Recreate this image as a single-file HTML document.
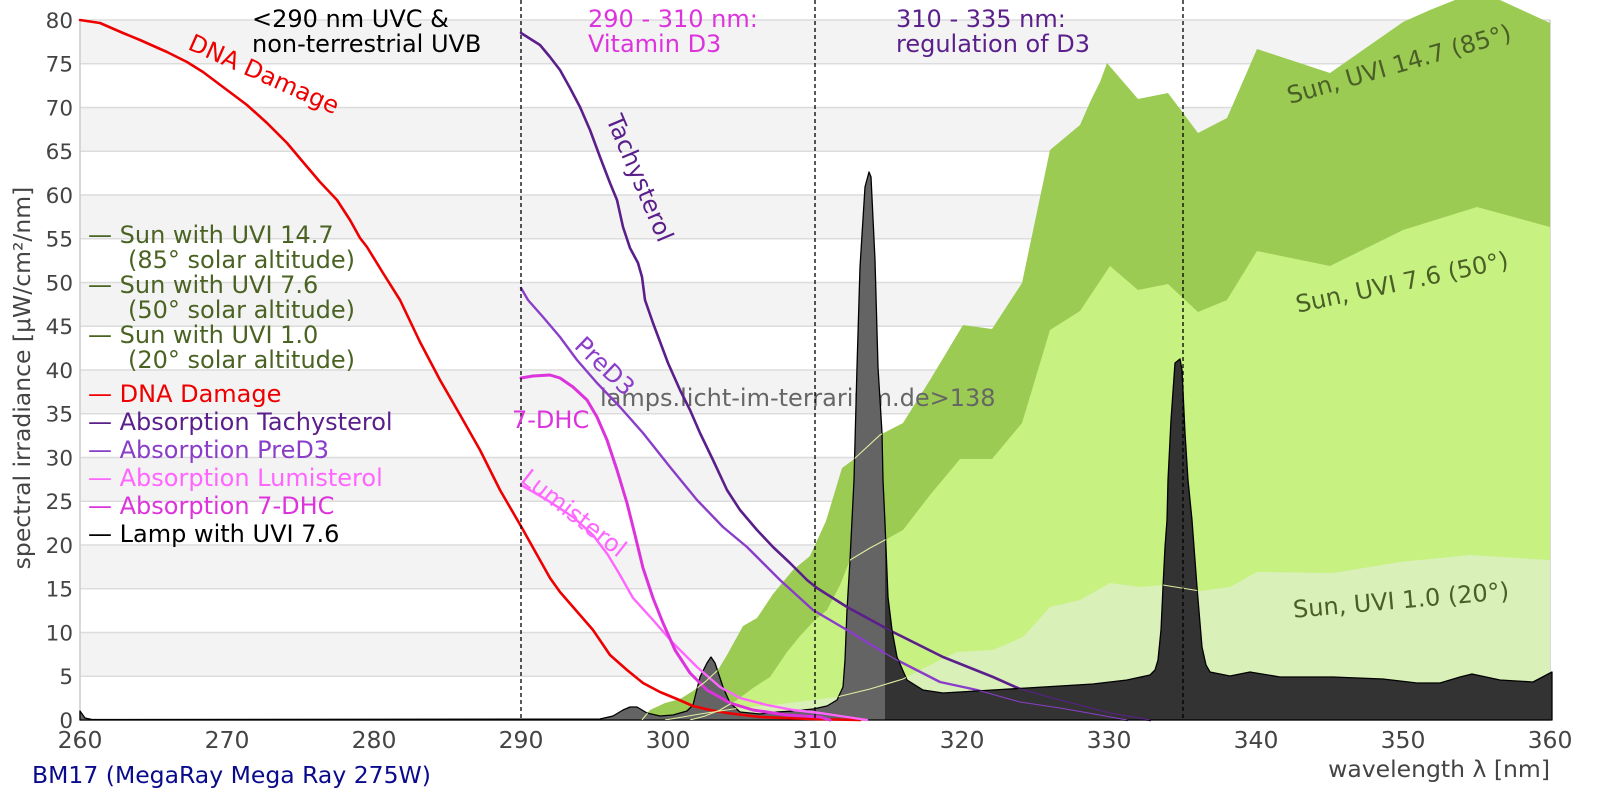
<!DOCTYPE html>
<html><head><meta charset="utf-8"><style>
html,body{margin:0;padding:0;background:#fff;}
svg{display:block;}
text{font-family:"DejaVu Sans","Liberation Sans",sans-serif;}
</style></head><body>
<svg width="1600" height="800" viewBox="0 0 1600 800" xmlns="http://www.w3.org/2000/svg">
<defs>
<clipPath id="leftclip"><rect x="0" y="0" width="885" height="800"/></clipPath>
<clipPath id="rightclip"><rect x="885" y="0" width="715" height="800"/></clipPath>
<clipPath id="lampclip"><polygon points="80,720 80,711 85,718 92,719.5 600,719 613,716 623,710 630,707 637,707 647,713 660,716 673,715 687,711 693,705 700,677 707,663 711,657 715,663 723,687 730,703 740,712 760,714 777,712 793,711 813,709 827,706 837,700 843,687 845,660 847,610 850,560 854,480 857,367 860,267 865,187 869,172 871,177 875,260 878,367 882,433 883,480 885,523 888,597 892,630 897,657 907,680 923,690 943,693 993,690 1027,688 1060,686 1093,684 1127,680 1150,675 1155,670 1158,660 1161,630 1163,587 1165,547 1167,520 1168,480 1171,420 1175,363 1180,359 1182,370 1185,433 1188,480 1192,520 1197,587 1202,647 1206,665 1210,672 1230,676 1250,672 1280,677 1333,677 1383,679 1417,683 1440,683 1460,677 1472,674 1500,680 1533,682 1552,672 1552,720"/></clipPath>
</defs>
<rect width="1600" height="800" fill="#fff"/>
<g fill="#f3f3f3">
<rect x="80" y="20" width="1470" height="43.75"/>
<rect x="80" y="107.5" width="1470" height="43.75"/>
<rect x="80" y="195" width="1470" height="43.75"/>
<rect x="80" y="282.5" width="1470" height="43.75"/>
<rect x="80" y="370" width="1470" height="43.75"/>
<rect x="80" y="457.5" width="1470" height="43.75"/>
<rect x="80" y="545" width="1470" height="43.75"/>
<rect x="80" y="632.5" width="1470" height="43.75"/>
</g>
<g stroke="#dcdcdc" stroke-width="1.5">
<line x1="80" x2="1550" y1="20" y2="20"/><line x1="80" x2="1550" y1="63.75" y2="63.75"/>
<line x1="80" x2="1550" y1="107.5" y2="107.5"/><line x1="80" x2="1550" y1="151.25" y2="151.25"/>
<line x1="80" x2="1550" y1="195" y2="195"/><line x1="80" x2="1550" y1="238.75" y2="238.75"/>
<line x1="80" x2="1550" y1="282.5" y2="282.5"/><line x1="80" x2="1550" y1="326.25" y2="326.25"/>
<line x1="80" x2="1550" y1="370" y2="370"/><line x1="80" x2="1550" y1="413.75" y2="413.75"/>
<line x1="80" x2="1550" y1="457.5" y2="457.5"/><line x1="80" x2="1550" y1="501.25" y2="501.25"/>
<line x1="80" x2="1550" y1="545" y2="545"/><line x1="80" x2="1550" y1="588.75" y2="588.75"/>
<line x1="80" x2="1550" y1="632.5" y2="632.5"/><line x1="80" x2="1550" y1="676.25" y2="676.25"/>
</g>
<g stroke="#cccccc" stroke-width="1.5">
<line x1="80" x2="80" y1="20" y2="720"/><line x1="1550" x2="1550" y1="20" y2="720"/>
<line x1="80" x2="1550" y1="720" y2="720"/>
</g>

<g font-size="21.5" fill="#444" text-anchor="end">
<text x="73" y="27.8">80</text><text x="73" y="71.5">75</text><text x="73" y="115.3">70</text><text x="73" y="159">65</text>
<text x="73" y="202.8">60</text><text x="73" y="246.5">55</text><text x="73" y="290.3">50</text><text x="73" y="334">45</text>
<text x="73" y="377.8">40</text><text x="73" y="421.5">35</text><text x="73" y="465.3">30</text><text x="73" y="509">25</text>
<text x="73" y="552.8">20</text><text x="73" y="596.5">15</text><text x="73" y="640.3">10</text><text x="73" y="684">5</text>
<text x="73" y="727.8">0</text>
</g>
<g font-size="23.5" fill="#444" text-anchor="middle">
<text x="80" y="748">260</text><text x="227" y="748">270</text><text x="374" y="748">280</text><text x="521" y="748">290</text>
<text x="668" y="748">300</text><text x="815" y="748">310</text><text x="962" y="748">320</text><text x="1109" y="748">330</text>
<text x="1256" y="748">340</text><text x="1403" y="748">350</text><text x="1550" y="748">360</text>
</g>
<text x="1550" y="777" font-size="23.5" fill="#444" text-anchor="end">wavelength λ [nm]</text>
<text x="32" y="783" font-size="23.5" fill="#0a0a8c">BM17 (MegaRay Mega Ray 275W)</text>
<text transform="translate(30,378) rotate(-90)" font-size="23.5" fill="#444" text-anchor="middle">spectral irradiance [μW/cm²/nm]</text>

<g font-size="24">
<text x="88" y="243" fill="#4a6323">— Sun with UVI 14.7</text>
<text x="128" y="268" fill="#4a6323">(85° solar altitude)</text>
<text x="88" y="293" fill="#4a6323">— Sun with UVI 7.6</text>
<text x="128" y="318" fill="#4a6323">(50° solar altitude)</text>
<text x="88" y="343" fill="#4a6323">— Sun with UVI 1.0</text>
<text x="128" y="368" fill="#4a6323">(20° solar altitude)</text>
<text x="88" y="402" fill="#ee0000">— DNA Damage</text>
<text x="88" y="430" fill="#5b1f8c">— Absorption Tachysterol</text>
<text x="88" y="458" fill="#8a3dc9">— Absorption PreD3</text>
<text x="88" y="486" fill="#ff66ff">— Absorption Lumisterol</text>
<text x="88" y="514" fill="#dd33dd">— Absorption 7-DHC</text>
<text x="88" y="542" fill="#000">— Lamp with UVI 7.6</text>
</g>

<polygon fill="#9bcb52" points="642,720 650,710 665,703 680,699 693,691 705,682 718,670 727,655 743,626 757,618 773,594 793,570 810,556 826,521 842,468 853,460 880,435 903,423 930,380 963,325 992,329 1022,283 1050,150 1080,125 1091,100 1100,82 1107,63 1138,99 1168,93 1198,133 1227,118 1257,49 1330,73 1403,22 1430,10 1455,0 1500,0 1550,23 1550,720"/>
<polygon fill="#c7f181" points="690,720 705,716 720,710 737,700 753,688 770,677 787,652 800,636 813,622 827,610 840,585 850,560 870,548 885,540 903,530 930,495 960,459 992,459 1022,423 1050,330 1080,311 1110,266 1138,290 1168,284 1198,312 1227,300 1257,251 1330,266 1403,230 1477,207 1550,227 1550,720"/>
<polygon fill="#daf0b9" points="665,720 700,714 740,708 780,704 837,697 870,689 903,679 930,665 957,652 993,650 1023,637 1050,607 1080,600 1110,583 1140,587 1163,585 1200,591 1230,587 1257,572 1333,573 1400,562 1470,555 1550,560 1550,720"/>

<text x="600" y="406" font-size="24" fill="#666">lamps.licht-im-terrarium.de&gt;138</text>

<g clip-path="url(#leftclip)">
<polygon fill="#646464" stroke="#000" stroke-width="1.3" stroke-linejoin="round" points="80,720 80,711 85,718 92,719.5 600,719 613,716 623,710 630,707 637,707 647,713 660,716 673,715 687,711 693,705 700,677 707,663 711,657 715,663 723,687 730,703 740,712 760,714 777,712 793,711 813,709 827,706 837,700 843,687 845,660 847,610 850,560 854,480 857,367 860,267 865,187 869,172 871,177 875,260 878,367 882,433 883,480 885,523 888,597 892,630 897,657 907,680 923,690 943,693 993,690 1027,688 1060,686 1093,684 1127,680 1150,675 1155,670 1158,660 1161,630 1163,587 1165,547 1167,520 1168,480 1171,420 1175,363 1180,359 1182,370 1185,433 1188,480 1192,520 1197,587 1202,647 1206,665 1210,672 1230,676 1250,672 1280,677 1333,677 1383,679 1417,683 1440,683 1460,677 1472,674 1500,680 1533,682 1552,672 1552,720"/>
</g>

<g fill="none" stroke-linejoin="round" stroke-linecap="round">
<polyline stroke="#ee0000" stroke-width="2.6" points="80,20 100,23 123,33 140,40 167,52 187,62 203,72 227,90 247,105 267,123 287,143 303,162 320,182 337,200 350,220 360,238 367,247 383,273 400,300 420,342 440,380 459,413 480,450 500,490 522,528 550,578 560,592 580,615 593,630 610,655 627,670 643,683 660,692 677,699 693,706 710,710 727,713 760,717 810,719 860,720"/>
<polyline stroke="#5b1f8c" stroke-width="2.6" points="521,33 540,45 550,57 560,70 570,88 580,107 590,130 600,157 610,183 617,200 623,227 630,248 638,263 642,277 645,300 653,323 668,363 680,390 690,410 700,433 713,460 727,490 740,510 757,530 773,547 790,563 807,580 817,588 847,607 893,632 943,657 993,677 1020,689 1060,700 1110,713 1150,720"/>
<polyline stroke="#8a3dc9" stroke-width="2.4" points="521,288 528,300 543,317 560,337 577,360 597,383 620,407 643,433 670,467 697,500 723,527 747,547 770,570 780,580 813,610 847,630 893,658 940,682 977,690 1020,702 1060,708 1100,715 1127,720"/>
<polyline stroke="#ff66ff" stroke-width="2.4" points="521,485 547,500 573,517 593,535 608,555 620,575 633,598 653,620 673,643 697,667 720,687 740,698 767,705 793,710 820,713 867,720"/>
<polyline stroke="#dd33dd" stroke-width="3" points="521,378 533,376 550,375 560,378 573,387 587,400 597,417 607,440 617,470 627,503 635,535 643,568 653,598 663,623 675,650 690,673 707,690 730,703 753,710 787,715 820,717 830,720"/>
</g>

<g clip-path="url(#rightclip)">
<polygon fill="#333333" stroke="#000" stroke-width="1.3" stroke-linejoin="round" points="80,720 80,711 85,718 92,719.5 600,719 613,716 623,710 630,707 637,707 647,713 660,716 673,715 687,711 693,705 700,677 707,663 711,657 715,663 723,687 730,703 740,712 760,714 777,712 793,711 813,709 827,706 837,700 843,687 845,660 847,610 850,560 854,480 857,367 860,267 865,187 869,172 871,177 875,260 878,367 882,433 883,480 885,523 888,597 892,630 897,657 907,680 923,690 943,693 993,690 1027,688 1060,686 1093,684 1127,680 1150,675 1155,670 1158,660 1161,630 1163,587 1165,547 1167,520 1168,480 1171,420 1175,363 1180,359 1182,370 1185,433 1188,480 1192,520 1197,587 1202,647 1206,665 1210,672 1230,676 1250,672 1280,677 1333,677 1383,679 1417,683 1440,683 1460,677 1472,674 1500,680 1533,682 1552,672 1552,720"/>
</g>

<g clip-path="url(#lampclip)" fill="none" stroke-width="1.1">
<polyline stroke="#dff0a0" points="642,720 650,710 665,703 680,699 693,691 705,682 718,670 727,655 743,626 757,618 773,594 793,570 810,556 826,521 842,468 853,460 880,435 903,423"/>
<polyline stroke="#dff0a0" points="690,720 705,716 720,710 737,700 753,688 770,677 787,652 800,636 813,622 827,610 840,585 850,560 870,548 885,540 903,530"/>
<polyline stroke="#dff0a0" points="665,720 700,714 740,708 780,704 837,697 870,689 903,679 930,665 957,652 993,650 1023,637 1050,607 1080,600 1110,583 1140,587 1163,585 1200,591 1230,587"/>
<polyline stroke="#5b1f8c" points="790,563 807,580 817,588 847,607 893,632 943,657 993,677 1020,689 1060,700 1110,713 1150,720"/>
<polyline stroke="#8a3dc9" points="770,570 780,580 813,610 847,630 893,658 940,682 977,690 1020,702 1060,708 1100,715 1127,720"/>
<polyline stroke="#ff66ff" points="793,710 820,713 867,720"/>
</g>

<g stroke="#000" stroke-width="1.3" stroke-dasharray="4,3">
<line x1="521" x2="521" y1="0" y2="720"/>
<line x1="815" x2="815" y1="0" y2="720"/>
<line x1="1183" x2="1183" y1="0" y2="720"/>
</g>

<g font-size="24">
<text x="252" y="27" fill="#000">&lt;290 nm UVC &amp;</text>
<text x="252" y="52" fill="#000">non-terrestrial UVB</text>
<text x="588" y="27" fill="#dd33dd">290 - 310 nm:</text>
<text x="588" y="52" fill="#dd33dd">Vitamin D3</text>
<text x="896" y="27" fill="#5b1f8c">310 - 335 nm:</text>
<text x="896" y="52" fill="#5b1f8c">regulation of D3</text>
<text x="264" y="74" dy="0.35em" text-anchor="middle" fill="#ee0000" transform="rotate(24,264,74)">DNA Damage</text>
<text x="640" y="178" dy="0.35em" text-anchor="middle" fill="#5b1f8c" transform="rotate(67,640,178)">Tachysterol</text>
<text x="605" y="366" dy="0.35em" text-anchor="middle" fill="#8a3dc9" transform="rotate(44,605,366)">PreD3</text>
<text x="574" y="513" dy="0.35em" text-anchor="middle" fill="#ff66ff" transform="rotate(38,574,513)">Lumisterol</text>
<text x="512" y="428" fill="#dd33dd">7-DHC</text>
<text x="1399" y="64" dy="0.35em" text-anchor="middle" fill="#4a5f26" transform="rotate(-16,1399,64)">Sun, UVI 14.7 (85°)</text>
<text x="1402" y="282" dy="0.35em" text-anchor="middle" fill="#4a5f26" transform="rotate(-12,1402,282)">Sun, UVI 7.6 (50°)</text>
<text x="1401" y="600" dy="0.35em" text-anchor="middle" fill="#4a5f26" transform="rotate(-5,1401,600)">Sun, UVI 1.0 (20°)</text>
</g>
</svg>
</body></html>
